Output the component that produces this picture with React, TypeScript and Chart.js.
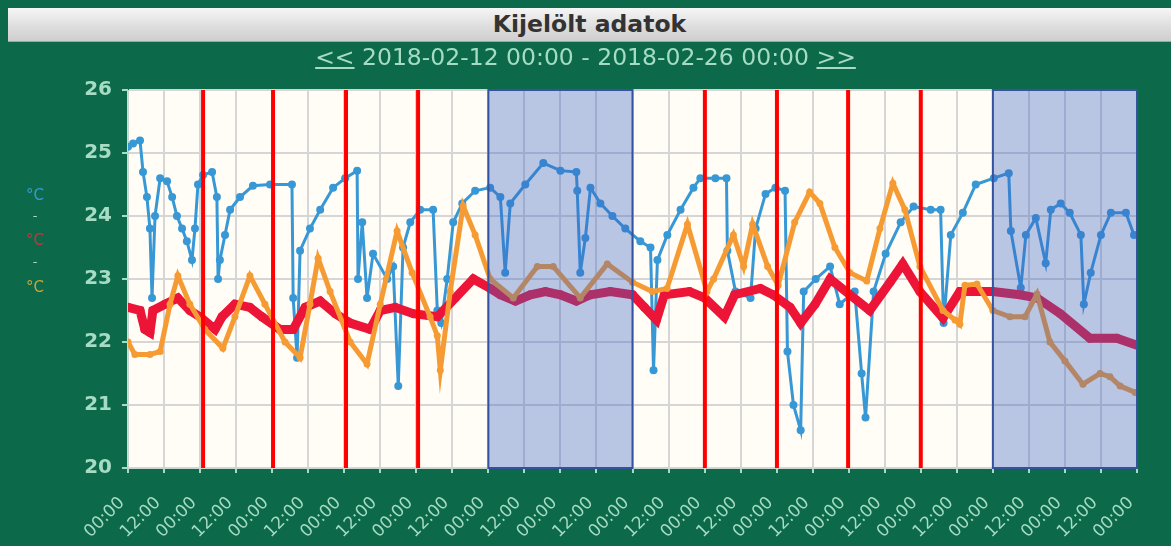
import React, { useEffect, useRef } from "react";
import { Chart, registerables } from "chart.js";

Chart.register(...registerables);

// ---- data (hours since 2018-02-12 00:00) ----
const titleText = "Kijelölt adatok";
const rangeText = "2018-02-12 00:00 - 2018-02-26 00:00";
const prevText = "<<";
const nextText = ">>";

const xTickLabels = [
  "00:00", "12:00", "00:00", "12:00", "00:00", "12:00", "00:00", "12:00",
  "00:00", "12:00", "00:00", "12:00", "00:00", "12:00", "00:00", "12:00",
  "00:00", "12:00", "00:00", "12:00", "00:00", "12:00", "00:00", "12:00",
  "00:00", "12:00", "00:00", "12:00", "00:00",
];
const yMin = 20;
const yMax = 26;
const xMax = 336;

const unitLabels = ["°C", "°C", "°C"];

const blueHours = [
  0, 1.7, 4, 5, 6.3, 7.3, 8, 9, 10.7, 13, 14.7, 16.3, 18, 19.6, 21.3, 22.3, 23.3, 25, 28, 29.6,
  30, 30.6, 32.3, 34, 37.3, 41.6, 47.3, 54.6, 55, 56.3, 57.3, 60.6, 64, 68.3, 72.3, 76.3, 76.6, 78,
  79.6, 81.6, 86.3, 88.3, 90, 91.6, 94, 97.3, 101.6, 103, 104.3, 106.3, 108.3, 111.3, 115.6, 120.6,
  124, 125.6, 127.3, 132.3, 138.3, 144, 149.3, 149.6, 150.6, 152.3, 154, 157.3, 161.3, 165.6, 170.6,
  174, 175, 176.3, 179.6, 184, 188.3, 190.6, 195.6, 199.3, 199.6, 202.3, 207.3, 209, 212.3, 215.6,
  218.8, 219.6, 221.6, 224, 225, 229, 233.8, 237, 242, 244.3, 245.6, 248.3, 252.3, 257.3, 261.6,
  267.3, 270.6, 271.6, 274, 278, 282.3, 288.3, 293.3, 294, 297.3, 299, 302.3, 305.6, 307.3, 310.6,
  313.6, 317.3, 318.3, 320.6, 324, 327.3, 332.3, 335,
];
const blueTemps = [
  25.1, 25.15, 25.2, 24.7, 24.3, 23.8, 22.7, 24.0, 24.6, 24.55, 24.3, 24.0, 23.8, 23.6, 23.3, 23.8, 24.5, 24.65, 24.7, 24.3,
  23.0, 23.3, 23.7, 24.1, 24.3, 24.48, 24.5, 24.5, 22.7, 21.75, 23.45, 23.8, 24.1, 24.45, 24.6, 24.72, 23.0, 23.9,
  22.7, 23.4, 23.0, 23.2, 21.3, 23.5, 23.9, 24.1, 24.1, 22.5, 22.3, 23.0, 23.9, 24.2, 24.4, 24.45,
  24.3, 23.1, 24.2, 24.5, 24.84, 24.72, 24.7, 24.4, 23.1, 23.65, 24.45, 24.2, 24.0, 23.8, 23.6,
  23.5, 21.55, 23.3, 23.7, 24.1, 24.45, 24.6, 24.6, 24.6, 23.45, 22.8, 22.7, 23.8, 24.35, 24.45,
  24.4, 21.85, 21.0, 20.6, 22.8, 23.0, 23.2, 22.6, 22.8, 21.5, 20.8, 22.8, 23.4, 23.9, 24.15,
  24.1, 24.1, 22.3, 23.7, 24.05, 24.5, 24.6, 24.68, 23.76, 22.86, 23.7, 23.97, 23.25, 24.1, 24.2,
  24.05, 23.7, 22.6, 23.1, 23.7, 24.05, 24.05, 23.7,
];

const redHours = [
  0, 4, 5.6, 7.3, 8.3, 12.3, 16.6, 20.6, 24, 29, 31.3, 35.6, 40.6, 44.6, 50.6, 55, 59, 64, 69, 74,
  80.6, 84, 89, 95, 103, 109, 115, 120.6, 124, 129, 134, 139, 144, 149.3, 154, 160.6, 168, 172, 176,
  178.6, 187, 192, 198.6, 202, 210.6, 214.8, 220.5, 224, 228.8, 233.8, 240.4, 247, 253.8, 258, 263.7,
  271.4, 277, 288, 297, 302.7, 310.4, 320.3, 329.3, 336,
];
const redTemps = [
  22.55, 22.5, 22.2, 22.15, 22.5, 22.6, 22.7, 22.5, 22.4, 22.2, 22.4, 22.6, 22.55, 22.4, 22.2, 22.2, 22.55, 22.65, 22.45, 22.3,
  22.2, 22.5, 22.55, 22.45, 22.4, 22.7, 23.0, 22.85, 22.75, 22.65, 22.75, 22.8, 22.75, 22.65, 22.75, 22.8, 22.75, 22.55, 22.35,
  22.75, 22.8, 22.7, 22.4, 22.75, 22.85, 22.75, 22.55, 22.3, 22.6, 23.0, 22.75, 22.5, 22.95, 23.24, 22.8,
  22.38, 22.8, 22.8, 22.75, 22.7, 22.45, 22.06, 22.06, 21.95,
];

const orangeHours = [
  0, 2.3, 7.3, 10.7, 14, 16.6, 20.6, 25.6, 31.6, 35.6, 40.6, 45.6, 52.3, 57.3, 60.6, 63.3, 67.3, 74,
  79.6, 84, 89.6, 94.6, 100.6, 103, 104, 107.3, 111.6, 115.6, 120.6, 128.3, 136.3, 141.6, 150.6, 159.6,
  168, 174.6, 179.5, 186.3, 192.8, 195, 201.6, 205, 208, 213, 216.5, 222, 227, 230.4, 235.4, 240.4,
  246, 250.4, 254.7, 258.7, 263.7, 271.4, 275.4, 277, 278.7, 282.7, 288, 293.7, 298.7, 302.7, 307,
  312, 318, 323.7, 327, 330.4, 335.4,
];
const orangeTemps = [
  22.0, 21.8, 21.8, 21.85, 22.6, 23.05, 22.6, 22.2, 21.9, 22.4, 23.05, 22.6, 22.0, 21.75, 22.6, 23.33, 22.8, 22.0,
  21.65, 22.6, 23.76, 23.1, 22.4, 22.1, 21.55, 22.8, 24.16, 23.7, 23.0, 22.7, 23.2, 23.2, 22.7, 23.24,
  22.95, 22.8, 22.85, 23.87, 22.8, 23.0, 23.7, 23.2, 23.87, 23.2, 22.9, 23.9, 24.38, 24.2, 23.5, 23.1,
  22.97, 23.8, 24.52, 24.1, 23.2, 22.5, 22.35, 22.28, 22.9, 22.92, 22.5, 22.4, 22.4, 22.76, 22.0,
  21.7, 21.33, 21.5, 21.45, 21.3, 21.2,
];

const weekendStartHours = [120, 288];
const weekendEndHours = [168, 336];
const markerHours = [25, 48.3, 72.6, 96.6, 192.1, 216.1, 239.8, 264];

// ---- styles ----
const BG = "#0c6a4b";
const MINT = "#a6dbc4";
const BLUE = "#3898d6";
const RED = "#ec1538";
const ORANGE = "#f69b33";

const toXY = (hs: number[], vs: number[]) => hs.map((h, i) => ({ x: h, y: vs[i] }));

const overlayPlugin = {
  id: "overlay",
  beforeDraw(chart: any) {
    const { ctx, chartArea: a } = chart;
    ctx.save();
    ctx.fillStyle = "#fffdf5";
    ctx.fillRect(a.left, a.top, a.right - a.left, a.bottom - a.top);
    ctx.restore();
  },
  afterDatasetsDraw(chart: any) {
    const { ctx, chartArea: a, scales } = chart;
    const xs = scales.x;
    ctx.save();
    weekendStartHours.forEach((s, i) => {
      const x0 = xs.getPixelForValue(s);
      const x1 = xs.getPixelForValue(weekendEndHours[i]);
      ctx.fillStyle = "rgba(58, 98, 196, 0.36)";
      ctx.fillRect(x0, a.top, x1 - x0, a.bottom - a.top);
      ctx.strokeStyle = "#3552a0";
      ctx.lineWidth = 2;
      ctx.strokeRect(x0, a.top, x1 - x0, a.bottom - a.top);
    });
    ctx.strokeStyle = "#ff0000";
    ctx.lineWidth = 4;
    markerHours.forEach((h) => {
      const x = xs.getPixelForValue(h);
      ctx.beginPath();
      ctx.moveTo(x, a.top);
      ctx.lineTo(x, a.bottom);
      ctx.stroke();
    });
    ctx.restore();
  },
};

export default function App() {
  const ref = useRef<HTMLCanvasElement | null>(null);

  useEffect(() => {
    if (!ref.current) return;
    const font = { family: "DejaVu Sans" };
    const chart = new Chart(ref.current, {
      type: "line",
      data: {
        datasets: [
          {
            label: "T3",
            data: toXY(orangeHours, orangeTemps),
            borderColor: ORANGE,
            backgroundColor: ORANGE,
            borderWidth: 5,
            pointRadius: 3.5,
            pointBorderWidth: 0,
            tension: 0,
            order: 1,
          },
          {
            label: "T2",
            data: toXY(redHours, redTemps),
            borderColor: RED,
            backgroundColor: RED,
            borderWidth: 9,
            pointRadius: 4.5,
            pointBorderWidth: 0,
            tension: 0,
            order: 2,
          },
          {
            label: "T1",
            data: toXY(blueHours, blueTemps),
            borderColor: BLUE,
            backgroundColor: BLUE,
            borderWidth: 3,
            pointRadius: 4,
            pointBorderWidth: 0,
            tension: 0,
            order: 3,
          },
        ],
      },
      options: {
        animation: false,
        responsive: false,
        events: [],
        layout: { padding: { left: 0, right: 34, top: 90, bottom: 0 } },
        plugins: { legend: { display: false }, tooltip: { enabled: false }, title: { display: false } },
        scales: {
          x: {
            type: "linear",
            min: 0,
            max: xMax,
            afterFit: (s: any) => {
              s.height = 78;
              s.paddingRight = 0;
            },
            grid: { color: "#d6d6d6", lineWidth: 2, tickColor: MINT, tickLength: 5 },
            border: { color: "#c9d6cf", width: 1 },
            ticks: {
              stepSize: 12,
              maxTicksLimit: 100,
              autoSkip: false,
              minRotation: 45,
              maxRotation: 45,
              color: MINT,
              padding: 20,
              labelOffset: -6,
              font: { ...font, size: 17 },
              callback: (_v: any, i: number) => xTickLabels[i],
            },
          },
          y: {
            min: yMin,
            max: yMax,
            afterFit: (s: any) => {
              s.width = 128;
            },
            grid: { color: "#d6d6d6", lineWidth: 2, tickColor: MINT, tickLength: 6 },
            border: { color: "#c9d6cf", width: 1 },
            ticks: {
              stepSize: 1,
              color: MINT,
              padding: 10,
              font: { ...font, size: 20, weight: "bold" },
            },
          },
        },
      },
      plugins: [overlayPlugin],
    });
    return () => chart.destroy();
  }, []);

  const unitColors = [BLUE, "#c8323f", "#c9a43a"];
  const unitTops = [185, 230, 277];
  const dashTops = [208, 254];

  return (
    <div
      style={{
        position: "fixed",
        left: 0,
        top: 0,
        width: 1171,
        height: 546,
        background: BG,
        overflow: "hidden",
        fontFamily: "DejaVu Sans",
      }}
    >
      <canvas ref={ref} width={1171} height={546} style={{ position: "absolute", left: 0, top: 0 }} />
      <div
        style={{
          position: "absolute",
          left: 8,
          top: 8,
          width: 1163,
          height: 33,
          background: "linear-gradient(#f6f6f6, #dcdcdc 60%, #cfcfcf)",
          borderBottom: "1px solid #9aa9a2",
          color: "#333",
          fontWeight: "bold",
          fontSize: 23.5,
          lineHeight: "33px",
          textAlign: "center",
        }}
      >
        {titleText}
      </div>
      <div
        style={{
          position: "absolute",
          left: 0,
          top: 44,
          width: 1171,
          textAlign: "center",
          color: MINT,
          fontSize: 23.5,
          lineHeight: "27px",
          whiteSpace: "pre",
        }}
      >
        <span style={{ textDecoration: "underline" }}>{prevText}</span>
        {" " + rangeText + " "}
        <span style={{ textDecoration: "underline" }}>{nextText}</span>
      </div>
      {unitLabels.map((u, i) => (
        <div
          key={"u" + i}
          style={{
            position: "absolute",
            left: 22,
            top: unitTops[i],
            width: 26,
            textAlign: "center",
            color: unitColors[i],
            fontSize: 15,
            lineHeight: "20px",
          }}
        >
          {u}
        </div>
      ))}
      {dashTops.map((t, i) => (
        <div
          key={"d" + i}
          style={{
            position: "absolute",
            left: 22,
            top: t,
            width: 26,
            textAlign: "center",
            color: MINT,
            fontSize: 13,
            lineHeight: "16px",
          }}
        >
          -
        </div>
      ))}
    </div>
  );
}
